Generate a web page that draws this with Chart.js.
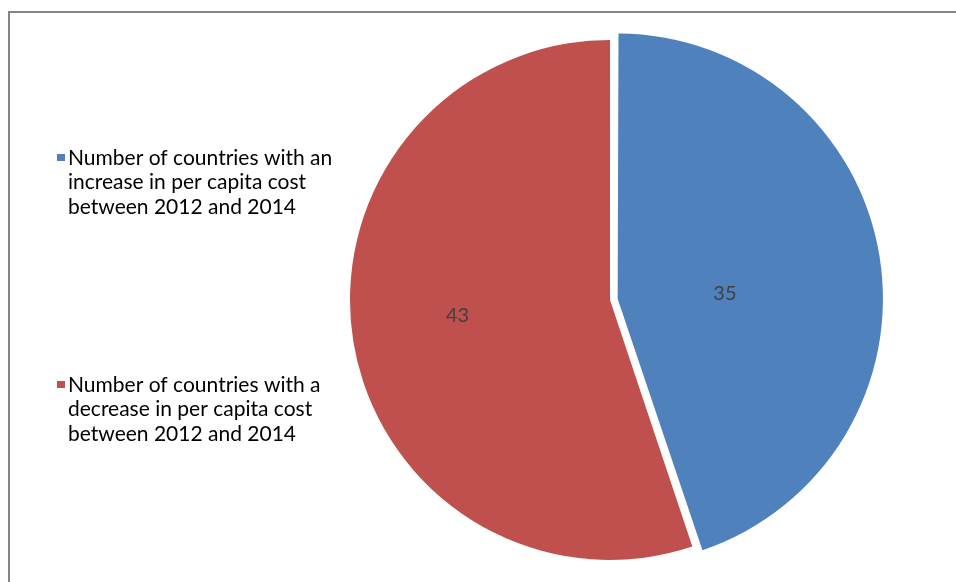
<!DOCTYPE html>
<html>
<head>
<meta charset="utf-8">
<script src="https://cdn.jsdelivr.net/npm/chart.js@4.4.1/dist/chart.umd.min.js"></script>
<style>
  html, body { margin:0; padding:0; background:#fff; }
  #wrap { width:956px; height:582px; }
</style>
</head>
<body>
<div id="wrap"><canvas id="graficoPizza" width="956" height="582"></canvas></div>
<script>
// ===============================
// DADOS
// ===============================
const categorias = [
  ["Number of countries with an", "increase in per capita cost", "between 2012 and 2014"],
  ["Number of countries with a", "decrease in per capita cost", "between 2012 and 2014"]
];
const valores = [35, 43];
const cores = ["#4F81BD", "#C0504D"];


// ===============================
// ESTILO
// ===============================
const FONTE = "Lato, Carlito, 'Open Sans', sans-serif";
const legendaX = 68;
const legendaY = [158, 385];   // centro da primeira linha de cada item
const legendaLinha = 24.5;
const fracRotulo = [0.39, 0.59]; // distância do rótulo ao centro (fração do raio)
const ajusteRotulo = [[2, 12], [-1, -9]];


// ===============================
// MOLDURA
// ===============================
const moldura = {
  id: "moldura",
  beforeDraw(chart){
    const ctx = chart.ctx;
    ctx.save();
    ctx.fillStyle = "#fff";
    ctx.fillRect(0, 0, chart.width, chart.height);
    ctx.strokeStyle = "#868686";
    ctx.lineWidth = 2;
    ctx.strokeRect(9, 12, chart.width + 20, chart.height + 20);
    ctx.restore();
  }
};


// ===============================
// LEGENDA (texto em várias linhas)
// ===============================
const legendaLateral = {
  id: "legendaLateral",
  afterDraw(chart){
    const ctx = chart.ctx;
    ctx.save();
    ctx.font = "21px " + FONTE;
    ctx.textBaseline = "middle";
    ctx.textAlign = "left";
    chart.data.labels.forEach((linhas, i) => {
      const y0 = legendaY[i];
      ctx.fillStyle = chart.data.datasets[0].backgroundColor[i];
      ctx.fillRect(legendaX - 11, y0 - 4, 8, 7);
      ctx.fillStyle = "#000";
      linhas.forEach((t, k) => ctx.fillText(t, legendaX, y0 + k * legendaLinha));
    });
    ctx.restore();
  }
};


// ===============================
// RÓTULOS DOS VALORES
// ===============================
const rotulos = {
  id: "rotulos",
  afterDatasetsDraw(chart){
    const ctx = chart.ctx;
    const meta = chart.getDatasetMeta(0);
    ctx.save();
    ctx.font = "20px " + FONTE;
    ctx.fillStyle = "#404040";
    ctx.textAlign = "center";
    ctx.textBaseline = "middle";
    meta.data.forEach((arc, i) => {
      const p = arc.getProps(["x", "y", "startAngle", "endAngle", "outerRadius", "circumference"], true);
      const meio = (p.startAngle + p.endAngle) / 2;
      // mesmo deslocamento que o ArcElement usa no draw()
      const off = (arc.options.offset || 0) / 4;
      const fix = 1 - Math.sin(Math.min(Math.PI, p.circumference || 0));
      const d = off * (1 + fix) + p.outerRadius * fracRotulo[i];
      ctx.fillText(String(chart.data.datasets[0].data[i]),
        p.x + Math.cos(meio) * d + ajusteRotulo[i][0],
        p.y + Math.sin(meio) * d + ajusteRotulo[i][1]);
    });
    ctx.restore();
  }
};


// ===============================
// GRÁFICO
// ===============================
new Chart(document.getElementById("graficoPizza"), {
  type: "pie",
  data: {
    labels: categorias,
    datasets: [{
      data: valores,
      backgroundColor: cores,
      borderWidth: 0,
      offset: [31, 0]
    }]
  },
  options: {
    responsive: false,
    animation: false,
    radius: 260,
    layout: { padding: { left: 264, top: 18, right: 0, bottom: 0 } },
    plugins: {
      legend: { display: false },
      tooltip: { enabled: false }
    }
  },
  plugins: [moldura, legendaLateral, rotulos]
});
</script>
</body>
</html>
